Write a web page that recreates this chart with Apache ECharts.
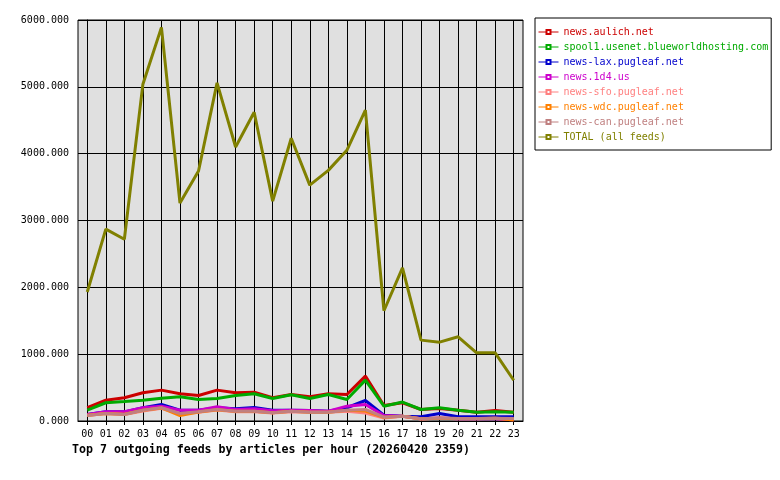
<!DOCTYPE html>
<html>
<head>
<meta charset="utf-8">
<script src="https://cdn.jsdelivr.net/npm/echarts@6/dist/echarts.min.js"></script>
<style>
  html, body { margin: 0; padding: 0; background: #fff; }
  #chart { width: 780px; height: 480px; }
</style>
</head>
<body>
<div id="chart"></div>
<script>
// hours of the day
const hours = ['00','01','02','03','04','05','06','07','08','09','10','11',
               '12','13','14','15','16','17','18','19','20','21','22','23'];

// articles per hour
const aulich = [200, 312, 348, 423, 462, 408, 382, 462, 423, 432, 348, 397, 362, 408, 397, 672, 232, 273, 172, 187, 162, 132, 157, 132];
const spool1 = [162, 273, 292, 312, 342, 362, 322, 337, 382, 408, 337, 393, 337, 397, 322, 612, 222, 283, 172, 198, 162, 132, 138, 132];
const lax    = [97, 138, 137, 198, 247, 162, 162, 198, 183, 203, 162, 162, 157, 147, 198, 307, 87, 72, 63, 112, 63, 63, 63, 63];
const d4     = [97, 138, 138, 198, 222, 162, 162, 213, 172, 183, 152, 162, 157, 147, 222, 247, 82, 72, 33, 45, 33, 33, 33, 20];
const sfo    = [82, 112, 97, 150, 190, 105, 130, 165, 140, 140, 120, 140, 130, 130, 147, 120, 45, 70, 30, 40, 35, 35, 40, 30];
const wdc    = [85, 112, 100, 160, 195, 82, 135, 170, 145, 145, 122, 145, 130, 132, 160, 150, 55, 70, 33, 42, 38, 38, 40, 15];
const can    = [82, 112, 97, 162, 198, 112, 138, 172, 147, 147, 122, 147, 132, 132, 162, 172, 57, 72, 33, 45, 38, 38, 42, 38];
const total  = [1930, 2870, 2720, 5040, 5890, 3260, 3740, 5060, 4100, 4620, 3290, 4230, 3530, 3750, 4050, 4650, 1650, 2290, 1210, 1180, 1260, 1020, 1020, 610];

const feedNames = ['news.aulich.net', 'spool1.usenet.blueworldhosting.com', 'news-lax.pugleaf.net',
                   'news.1d4.us', 'news-sfo.pugleaf.net', 'news-wdc.pugleaf.net',
                   'news-can.pugleaf.net', 'TOTAL (all feeds)'];
const feedValues = [aulich, spool1, lax, d4, sfo, wdc, can, total];
const colors = ['#cc0000', '#00aa00', '#0000cc', '#cc00cc', '#ff8080', '#ff8000', '#c08080', '#808000'];

const font = 'DejaVu Sans Mono';
const chart = echarts.init(document.getElementById('chart'));

const option = {
  animation: false,
  backgroundColor: '#fff',
  title: {
    text: 'Top 7 outgoing feeds by articles per hour (20260420 2359)',
    left: 72,
    top: 444,
    padding: 0,
    textStyle: { fontFamily: font, fontSize: 11.6, fontWeight: 'bold', color: '#000' }
  },
  grid: {
    left: 78, top: 20, right: 257, bottom: 59,
    show: true,
    backgroundColor: '#e0e0e0',
    borderColor: '#000',
    borderWidth: 1
  },
  legend: {
    orient: 'vertical',
    left: 535,
    top: 18,
    padding: [8, 3, 7, 3],
    itemGap: 3,
    itemWidth: 20,
    itemHeight: 5,
    textGap: 4,
    lineStyle: { width: 1 },
    itemStyle: { borderWidth: 1 },
    textStyle: { fontFamily: font, fontSize: 10, lineHeight: 12 },
    borderColor: '#000',
    borderWidth: 1,
    backgroundColor: '#fff',
    data: feedNames.map((n, i) => ({ name: n, textStyle: { color: colors[i] } }))
  },
  xAxis: {
    type: 'value',
    min: -0.5,
    max: 23.5,
    axisLine: { show: true, onZero: false, lineStyle: { color: '#000' } },
    axisTick: { show: true, length: 4, customValues: hours.map((h, i) => i), lineStyle: { color: '#000' } },
    axisLabel: {
      customValues: hours.map((h, i) => i),
      formatter: v => hours[Math.round(v)],
      fontFamily: font, fontSize: 10, color: '#000', margin: 8
    },
    splitLine: { show: true, lineStyle: { color: '#000', width: 1 } }
  },
  yAxis: {
    type: 'value',
    min: 0,
    max: 6000,
    interval: 1000,
    axisLine: { show: true, lineStyle: { color: '#000' } },
    axisTick: { show: true, length: 4, lineStyle: { color: '#000' } },
    axisLabel: {
      formatter: v => v.toFixed(3),
      fontFamily: font, fontSize: 10, color: '#000', margin: 9
    },
    splitLine: { show: true, lineStyle: { color: '#000', width: 1 } }
  },
  series: feedNames.map((n, i) => ({
    name: n,
    type: 'line',
    symbol: 'emptyRect',
    showSymbol: false,
    color: colors[i],
    lineStyle: { color: colors[i], width: 3 },
    data: feedValues[i].map((v, h) => [h, v])
  }))
};

chart.setOption(option);
</script>
</body>
</html>
